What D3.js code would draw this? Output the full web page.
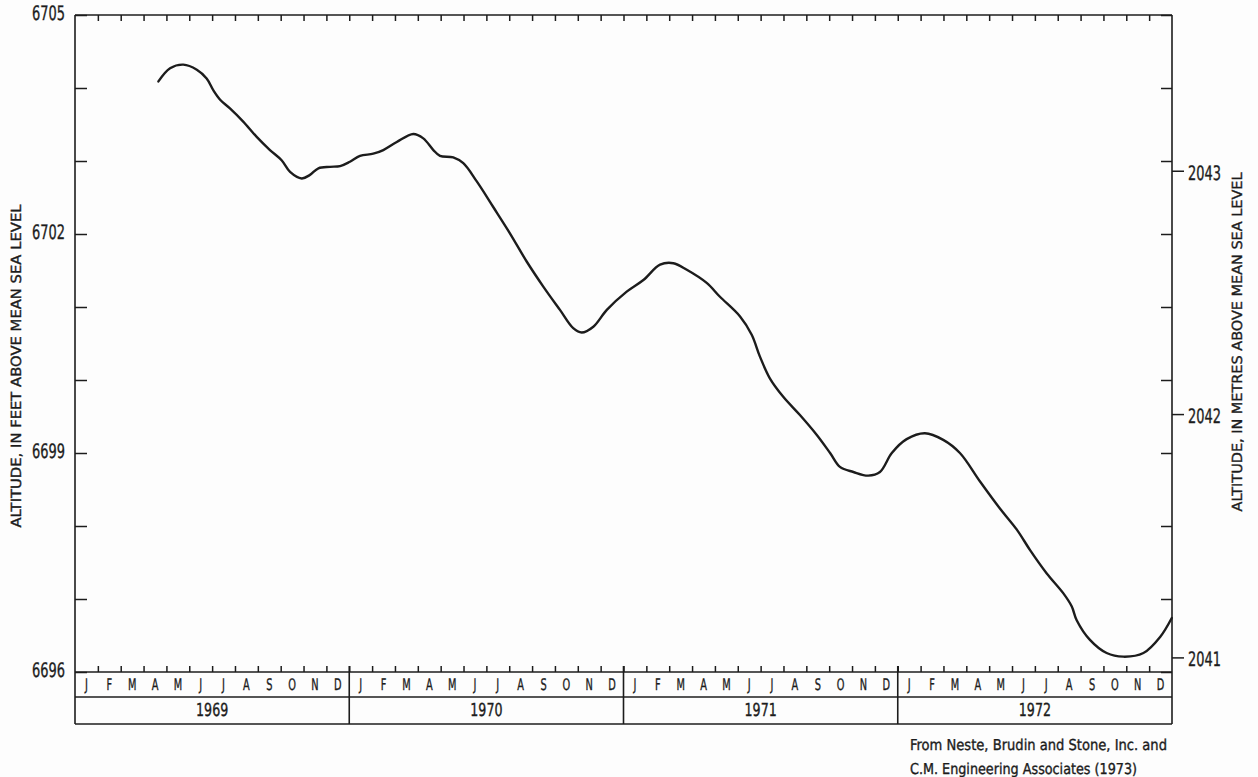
<!DOCTYPE html>
<html>
<head>
<meta charset="utf-8">
<script src="https://cdn.jsdelivr.net/npm/d3@7"></script>
<style>
  html, body { margin: 0; padding: 0; background: #fdfdfd; }
  svg { display: block; }
  text {
    font-family: "DejaVu Sans Condensed", "DejaVu Sans", sans-serif;
    fill: #1c1c1c; stroke: #1c1c1c; stroke-width: 0.35px;
    -webkit-font-smoothing: antialiased; text-rendering: geometricPrecision;
  }
</style>
</head>
<body>
<svg id="chart" width="1258" height="777"></svg>
<script>
// Lake-level hydrograph, 1969-1972 (months counted from 1 January 1969)
const monthPos = [
  3.65, 4.16, 4.74, 5.33, 5.76, 6.05, 6.35, 6.78, 7.36, 7.95,
  8.53, 9.04, 9.41, 9.92, 10.28, 10.65, 11.16, 11.60, 12.03, 12.47,
  13.05, 13.49, 14.08, 14.80, 15.24, 15.68, 15.97, 16.55, 16.99, 17.58,
  18.30, 19.03, 19.77, 20.49, 21.22, 21.80, 22.17, 22.68, 23.27, 24.14,
  24.87, 25.60, 26.18, 26.77, 27.64, 28.22, 29.10, 29.61, 29.97, 30.41,
  30.99, 31.72, 32.45, 33.04, 33.47, 34.06, 34.71, 35.22, 35.74, 36.39,
  37.19, 37.99, 38.72, 39.60, 40.47, 41.21, 41.79, 42.52, 43.24, 43.61,
  43.83, 44.41, 45.14, 45.87, 46.75, 47.48, 47.99
];
const altitudeFt = [
  6704.09, 6704.27, 6704.32, 6704.25, 6704.13, 6703.97, 6703.84, 6703.72, 6703.54, 6703.33,
  6703.15, 6703.01, 6702.85, 6702.76, 6702.81, 6702.90, 6702.92, 6702.93, 6702.99, 6703.07,
  6703.10, 6703.15, 6703.26, 6703.37, 6703.31, 6703.15, 6703.07, 6703.05, 6702.97, 6702.72,
  6702.37, 6702.01, 6701.62, 6701.28, 6700.96, 6700.71, 6700.65, 6700.73, 6700.96, 6701.21,
  6701.37, 6701.58, 6701.60, 6701.51, 6701.33, 6701.14, 6700.87, 6700.62, 6700.32, 6700.02,
  6699.77, 6699.52, 6699.25, 6699.00, 6698.81, 6698.74, 6698.69, 6698.74, 6699.00, 6699.19,
  6699.27, 6699.18, 6699.00, 6698.61, 6698.24, 6697.95, 6697.67, 6697.35, 6697.08, 6696.90,
  6696.71, 6696.44, 6696.26, 6696.21, 6696.26, 6696.48, 6696.74
];

const monthLetters = ["J", "F", "M", "A", "M", "J", "J", "A", "S", "O", "N", "D"];
const years = [1969, 1970, 1971, 1972];
const feetTicks = [6696, 6697, 6698, 6699, 6700, 6701, 6702, 6703, 6704, 6705];
const feetLabels = [6696, 6699, 6702, 6705];
const metreTicks = [2041, 2042, 2043];
const leftTitle = "ALTITUDE, IN FEET ABOVE MEAN SEA LEVEL";
const rightTitle = "ALTITUDE, IN METRES ABOVE MEAN SEA LEVEL";
const sourceLines = ["From Neste, Brudin and Stone, Inc. and", "C.M. Engineering Associates (1973)"];

(function draw() {
  const svg = d3.select("#chart");
  const INK = "#1c1c1c";

  const pL = 75, pR = 1172, pT = 15, pB = 672;
  const monthBand = 25, yearBand = 27;

  const x = d3.scaleLinear().domain([0, years.length * 12]).range([pL, pR]);
  const y = d3.scaleLinear().domain([6696, 6705]).range([pB, pT]);
  // metre scale laid against the same frame
  const yM = d3.scaleLinear().domain([2040.94, 2043.64]).range([pB, pT]);

  // narrow lettering helper
  function letter(g, px, py, str, size, sx, anchor) {
    return g.append("text")
      .attr("transform", `translate(${px},${py}) scale(${sx},1)`)
      .attr("text-anchor", anchor || "middle")
      .attr("dominant-baseline", "central")
      .style("font-size", size + "px")
      .text(str);
  }

  function styleTicks(g) {
    g.select(".domain").remove();
    g.selectAll(".tick line").attr("stroke", INK).attr("stroke-width", 1.5);
  }

  // left axis: inward foot ticks, labels every three feet
  svg.append("g").attr("transform", `translate(${pL},0)`)
    .call(d3.axisLeft(y).tickValues(feetTicks).tickSizeInner(-12).tickSizeOuter(0).tickFormat(""))
    .call(styleTicks);
  feetLabels.forEach(v => letter(svg, pL - 10, y(v) - 2, String(v), 20, 0.72, "end"));

  // right axis: inward foot ticks
  svg.append("g").attr("transform", `translate(${pR},0)`)
    .call(d3.axisRight(y).tickValues(feetTicks).tickSizeInner(-11).tickSizeOuter(0).tickFormat(""))
    .call(styleTicks);

  // right axis: outward metre ticks
  svg.append("g").attr("transform", `translate(${pR},0)`)
    .call(d3.axisRight(yM).tickValues(metreTicks).tickSizeInner(12).tickSizeOuter(0).tickFormat(""))
    .call(styleTicks);
  metreTicks.forEach(v => letter(svg, pR + 16, yM(v) + 2, String(v), 20, 0.72, "start"));

  // month ticks along top and bottom of the plotting field
  const monthBounds = d3.range(1, years.length * 12);
  svg.append("g").attr("transform", `translate(0,${pT})`)
    .call(d3.axisTop(x).tickValues(monthBounds).tickSizeInner(-6).tickSizeOuter(0).tickFormat(""))
    .call(styleTicks);
  svg.append("g").attr("transform", `translate(0,${pB})`)
    .call(d3.axisBottom(x).tickValues(monthBounds).tickSizeInner(-6).tickSizeOuter(0).tickFormat(""))
    .call(styleTicks);

  // frame, month band and year band
  const frame = svg.append("g").attr("stroke", INK).attr("stroke-width", 1.6).attr("fill", "none");
  const yBottom = pB + monthBand + yearBand;
  [pT, pB, pB + monthBand, yBottom].forEach(yy => {
    frame.append("line").attr("x1", pL).attr("x2", pR).attr("y1", yy).attr("y2", yy);
  });
  [pL, pR].forEach(xx => {
    frame.append("line").attr("x1", xx).attr("x2", xx).attr("y1", pT).attr("y2", yBottom);
  });
  frame.selectAll(".yeardiv").data(d3.range(1, years.length)).join("line")
    .attr("class", "yeardiv")
    .attr("x1", d => x(d * 12)).attr("x2", d => x(d * 12))
    .attr("y1", pB - 6).attr("y2", yBottom);

  // month letters and year labels
  years.forEach((yr, yi) => {
    monthLetters.forEach((m, mi) => {
      letter(svg, x(yi * 12 + mi + 0.5), pB + monthBand / 2, m, 16, 0.68, "middle");
    });
    letter(svg, x(yi * 12 + 6), pB + monthBand + yearBand / 2, String(yr), 18, 0.78, "middle");
  });

  // hydrograph
  const pts = monthPos.map((t, i) => [t, altitudeFt[i]]);
  svg.append("path")
    .datum(pts)
    .attr("fill", "none")
    .attr("stroke", INK)
    .attr("stroke-width", 2.4)
    .attr("stroke-linejoin", "round")
    .attr("stroke-linecap", "round")
    .attr("d", d3.line().x(d => x(d[0])).y(d => y(d[1])).curve(d3.curveCatmullRom.alpha(0.5)));

  // axis titles
  svg.append("text")
    .attr("transform", "translate(17,366) rotate(-90)")
    .attr("text-anchor", "middle").attr("dominant-baseline", "central")
    .attr("textLength", 323).attr("lengthAdjust", "spacingAndGlyphs")
    .style("font-size", "14px")
    .text(leftTitle);
  svg.append("text")
    .attr("transform", "translate(1238,342) rotate(-90)")
    .attr("text-anchor", "middle").attr("dominant-baseline", "central")
    .attr("textLength", 339).attr("lengthAdjust", "spacingAndGlyphs")
    .style("font-size", "14px")
    .text(rightTitle);

  // source note
  const srcLen = [257, 227];
  sourceLines.forEach((s, i) => {
    svg.append("text")
      .attr("x", 910).attr("y", 745 + i * 24)
      .attr("dominant-baseline", "central")
      .attr("textLength", srcLen[i]).attr("lengthAdjust", "spacingAndGlyphs")
      .style("font-size", "15px")
      .text(s);
  });
})();
</script>
</body>
</html>
